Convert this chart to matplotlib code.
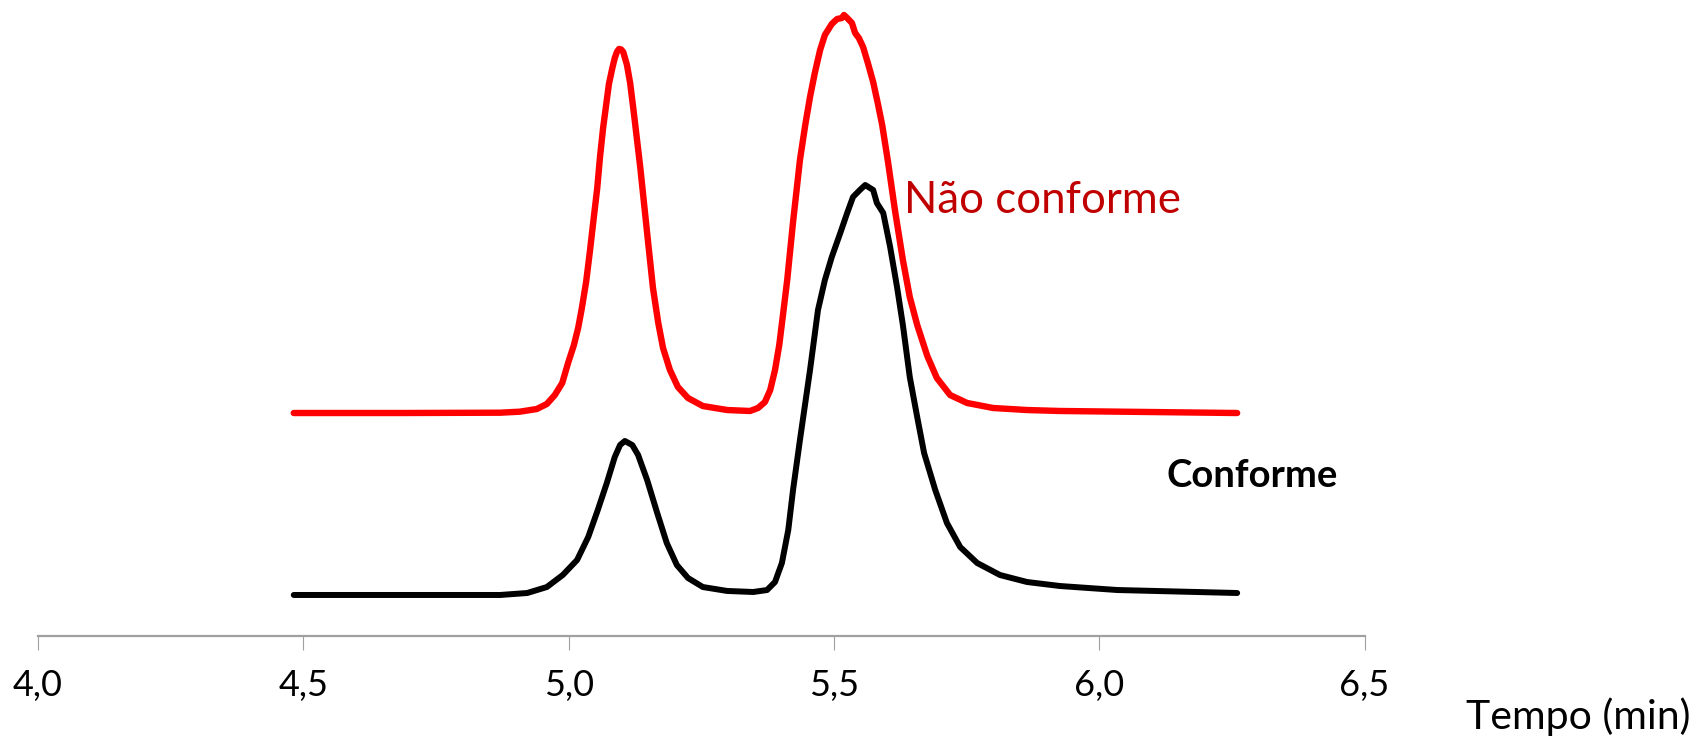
import matplotlib
matplotlib.use("Agg")
import matplotlib.pyplot as plt

# Retention time (min) and signal (arbitrary units)
red_t = [4.482, 4.682, 4.871, 4.908, 4.940, 4.959, 4.974, 4.988, 4.999, 5.010,
         5.018, 5.025, 5.033, 5.040, 5.048, 5.054, 5.059, 5.065, 5.071, 5.076,
         5.082, 5.087, 5.091, 5.095, 5.099, 5.103, 5.110, 5.116, 5.123, 5.135,
         5.148, 5.159, 5.169, 5.178, 5.191, 5.206, 5.225, 5.253, 5.299, 5.342,
         5.357, 5.370, 5.380, 5.389, 5.397, 5.404, 5.412, 5.423, 5.436, 5.446,
         5.455, 5.464, 5.474, 5.483, 5.496, 5.506, 5.515, 5.519, 5.525, 5.534,
         5.540, 5.547, 5.555, 5.564, 5.574, 5.583, 5.591, 5.602, 5.615, 5.630,
         5.643, 5.657, 5.676, 5.694, 5.719, 5.751, 5.800, 5.864, 5.926, 6.260]
red_y = [35.06, 35.06, 35.11, 35.27, 35.69, 36.48, 37.89, 39.78, 42.92, 45.75,
         48.43, 51.57, 55.66, 60.38, 66.19, 70.44, 75.16, 79.87, 83.65, 86.79,
         89.15, 90.88, 91.82, 92.30, 92.22, 91.82, 89.78, 86.95, 82.23, 73.74,
         63.36, 54.72, 49.21, 45.28, 41.82, 39.15, 37.42, 36.16, 35.53, 35.38,
         35.85, 36.79, 38.68, 41.82, 45.75, 50.47, 55.97, 65.09, 74.84, 80.35,
         84.75, 88.52, 92.14, 94.50, 96.23, 97.01, 97.17, 97.64, 97.17, 96.38,
         94.81, 94.03, 92.61, 90.09, 87.11, 83.65, 80.35, 74.53, 66.98, 59.12,
         53.30, 48.90, 44.03, 40.57, 37.89, 36.64, 35.85, 35.53, 35.38, 35.06]

black_t = [4.482, 4.871, 4.922, 4.959, 4.989, 5.016, 5.037, 5.055, 5.072, 5.087,
           5.097, 5.106, 5.120, 5.131, 5.148, 5.167, 5.185, 5.204, 5.225, 5.253,
           5.299, 5.348, 5.374, 5.389, 5.402, 5.414, 5.423, 5.436, 5.455, 5.470,
           5.483, 5.496, 5.512, 5.525, 5.536, 5.549, 5.559, 5.574, 5.581, 5.593,
           5.606, 5.619, 5.630, 5.643, 5.657, 5.670, 5.691, 5.713, 5.738, 5.770,
           5.813, 5.864, 5.926, 6.034, 6.260]
black_y = [6.45, 6.45, 6.76, 7.70, 9.59, 11.95, 15.57, 19.81, 24.06, 28.14,
           30.03, 30.66, 30.03, 28.46, 24.53, 19.34, 14.62, 11.16, 9.12, 7.70,
           7.08, 6.92, 7.23, 8.49, 11.48, 16.67, 22.96, 30.82, 41.82, 51.26,
           55.97, 59.59, 63.36, 66.51, 69.03, 70.13, 70.91, 70.13, 68.08, 66.51,
           61.16, 54.87, 48.90, 40.72, 34.43, 28.77, 22.96, 17.77, 13.99, 11.48,
           9.59, 8.49, 7.86, 7.23, 6.76]

x_ticks = [4.0, 4.5, 5.0, 5.5, 6.0, 6.5]
x_tick_labels = ["4,0", "4,5", "5,0", "5,5", "6,0", "6,5"]

plt.rcParams['font.family'] = ['Lato', 'DejaVu Sans']

fig = plt.figure(figsize=(16.98, 7.44), dpi=100)
ax = fig.add_axes([38 / 1698, 108 / 744, (1364.5 - 38) / 1698, 636 / 744])

ax.plot(black_t, black_y, color='black', lw=4.3, solid_capstyle='round', solid_joinstyle='round')
ax.plot(red_t, red_y, color='#FF0000', lw=4.6, solid_capstyle='round', solid_joinstyle='round')

ax.set_xlim(4.0, 6.5)
ax.set_ylim(0, 100)
ax.set_xticks(x_ticks)
ax.set_xticklabels(x_tick_labels, fontsize=26)
ax.set_yticks([])
for s in ['left', 'right', 'top']:
    ax.spines[s].set_visible(False)
ax.spines['bottom'].set_color('#A0A0A0')
ax.spines['bottom'].set_linewidth(1.6)
ax.tick_params(axis='x', direction='out', length=10, width=0.8, color='#A0A0A0', pad=14)

ax.text(5.632, 66.5, "Não conforme", color='#C00000', fontsize=31.5, va='baseline', ha='left')
ax.text(6.126, 23.4, "Conforme", color='black', fontsize=27.5, fontweight='bold', va='baseline', ha='left')

fig.text(1690 / 1698, 15 / 744, "Tempo (min)", fontsize=29.5, ha='right', va='baseline')

fig.savefig("out.png", dpi=100)
